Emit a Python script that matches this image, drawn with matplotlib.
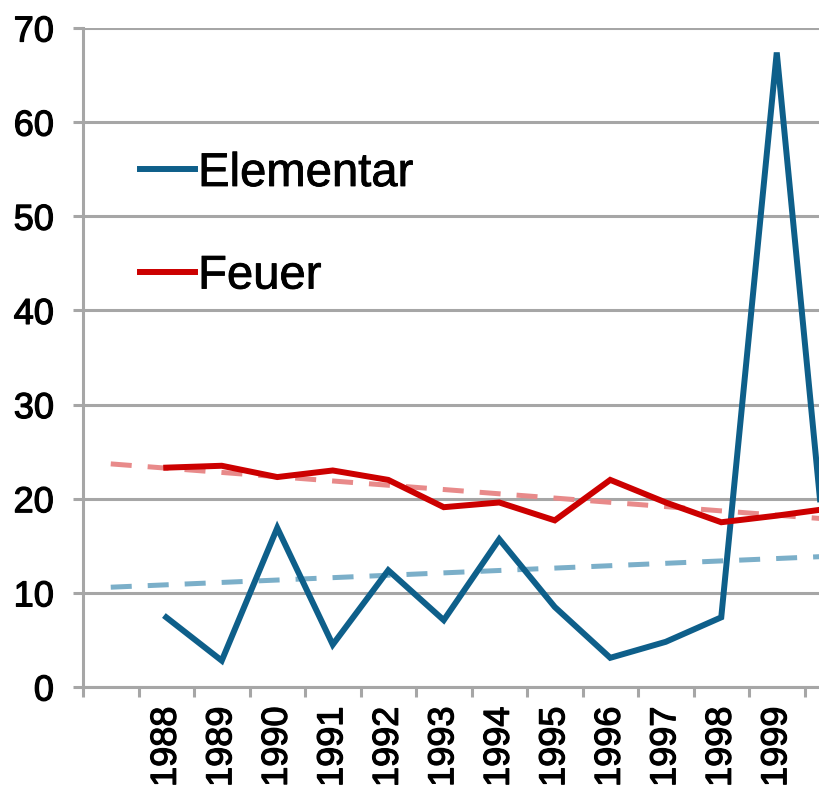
import numpy as np
import matplotlib.pyplot as plt
import matplotlib.patheffects as pe
from matplotlib.ticker import FixedLocator, NullFormatter, FixedFormatter

plt.rcParams["font.family"] = ["Liberation Sans", "DejaVu Sans"]

# --- Data ---
years = ["", "1988", "1989", "1990", "1991", "1992", "1993", "1994",
         "1995", "1996", "1997", "1998", "1999", "2000"]
elementar = [np.nan, 7.4, 2.8, 16.9, 4.5, 12.4, 7.1, 15.7, 8.5, 3.1, 4.8, 7.4, 67.4, 6.5]
feuer = [np.nan, 23.3, 23.5, 22.3, 23.0, 22.0, 19.1, 19.6, 17.7, 22.0, 19.6, 17.5, 18.2, 19.0]
# linear trend lines: value at first and last category
trend_elementar = [10.6, 13.9]
trend_feuer = [23.7, 17.8]

blue = "#0E5F8A"
red = "#CC0000"
grid_gray = "#A6A6A6"
thick = [pe.withStroke(linewidth=0.9, foreground="black")]

# --- Figure ---
fig = plt.figure(figsize=(8.19, 7.92), dpi=100)
ax = fig.add_axes([83 / 819, 105 / 792, 1 - 83 / 819, (687 - 28) / 792])

x = np.arange(len(years))
ax.plot(x, elementar, color=blue, lw=4.3, solid_joinstyle="miter", label="Elementar", zorder=4)
ax.plot(x, feuer, color=red, lw=4.3, solid_joinstyle="miter", label="Feuer", zorder=4)

ends = [x[0], x[-1]]
ax.plot(ends, trend_elementar, color="#7BAFC9", lw=3.6, dashes=(4.2, 3.2),
        dash_capstyle="butt", zorder=3)
ax.plot(ends, trend_feuer, color="#E88A8A", lw=3.6, dashes=(4.2, 3.2),
        dash_capstyle="butt", zorder=3)

# --- Axes formatting ---
ax.set_ylim(0, 70)
ax.set_xlim(-0.5, (819 - 83) / 55.5 - 0.5)
ax.set_yticks(np.arange(0, 71, 10))
ax.yaxis.grid(True, color=grid_gray, lw=2.2)
ax.set_axisbelow(True)

ax.xaxis.set_major_locator(FixedLocator(np.arange(len(years) + 1) - 0.5))
ax.xaxis.set_major_formatter(NullFormatter())
ax.xaxis.set_minor_locator(FixedLocator(x))
ax.xaxis.set_minor_formatter(FixedFormatter(years))
ax.tick_params(axis="x", which="minor", length=0, labelsize=26, rotation=90, pad=14)
ax.tick_params(axis="x", which="major", length=7, width=2.2, color=grid_gray)
ax.tick_params(axis="y", length=7, width=2.2, color=grid_gray, labelsize=26, pad=14)

for lbl in ax.get_yticklabels() + ax.get_xticklabels(minor=True):
    lbl.set_path_effects(thick)

for side in ["top", "right"]:
    ax.spines[side].set_visible(False)
for side in ["left", "bottom"]:
    ax.spines[side].set_color(grid_gray)
    ax.spines[side].set_linewidth(2.2)

leg = ax.legend(loc="upper left", bbox_to_anchor=(140 / 819, 1 - 152 / 792),
                bbox_transform=fig.transFigure, frameon=False, fontsize=34,
                handlelength=1.17, handletextpad=0.06, labelspacing=1.24,
                borderpad=0, borderaxespad=0)
for t in leg.get_texts():
    t.set_path_effects([pe.withStroke(linewidth=0.6, foreground="black")])

plt.savefig("out.png", dpi=100)
